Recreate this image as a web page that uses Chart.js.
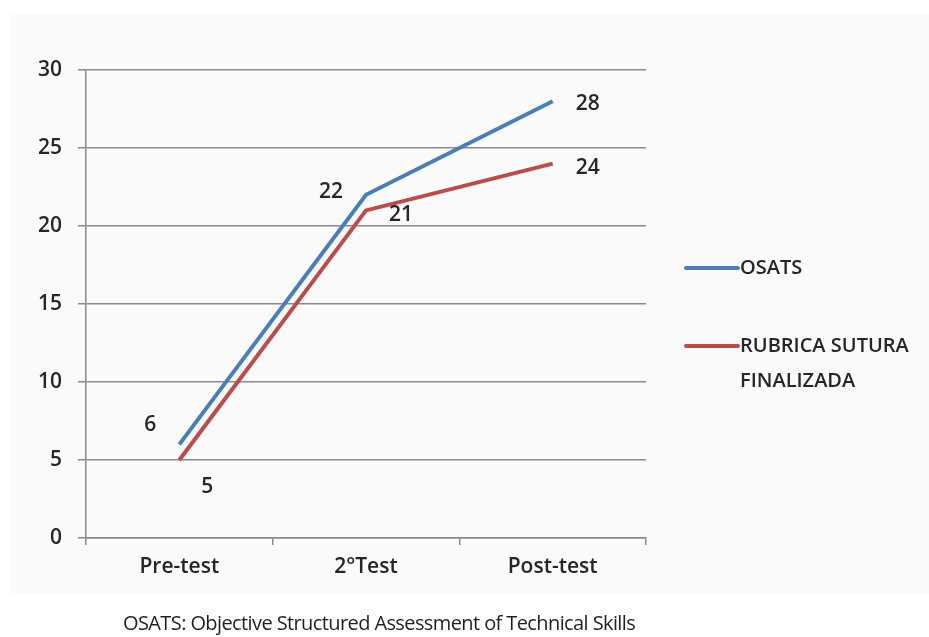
<!DOCTYPE html>
<html>
<head>
<meta charset="utf-8">
<script src="https://cdn.jsdelivr.net/npm/chart.js@4/dist/chart.umd.min.js"></script>
<style>
  html, body { margin: 0; padding: 0; background: #fff; }
  #wrap { position: relative; width: 929px; height: 637px; }
  #panel { position: absolute; left: 10px; top: 14px; width: 919px; height: 580px; background: #fafafa; }
  #chart { position: absolute; left: 0; top: 0; }
  #caption {
    position: absolute; left: 123px; top: 609px; white-space: nowrap;
    font-family: "Open Sans", sans-serif; font-size: 20px; color: #231f20;
    letter-spacing: -0.6px;
  }
</style>
</head>
<body>
<div id="wrap">
  <div id="panel"></div>
  <canvas id="chart" width="929" height="637"></canvas>
  <div id="caption">OSATS: Objective Structured Assessment of Technical Skills</div>
</div>
<script>
const categories = ["Pre-test", "2\u00b0Test", "Post-test"];
const osatsValues = [6, 22, 28];
const rubricaValues = [5, 21, 24];
const seriesNames = ["OSATS", ["RUBRICA SUTURA", "FINALIZADA"]];
const yTicks = [0, 5, 10, 15, 20, 25, 30];

// label offsets from each point (px)
const labelOffsets = [
  [[-29, -19], [-35, -3], [35, 3]],
  [[28, 27], [35, 5], [35, 4]]
];

const FONT = "'Open Sans', sans-serif";
const TEXT = "#262626";
const AXIS = "#8a8a8a";

const labelPlugin = {
  id: "pointLabels",
  afterDatasetsDraw(chart) {
    const ctx = chart.ctx;
    ctx.save();
    ctx.font = "600 21px " + FONT;
    ctx.fillStyle = TEXT;
    ctx.textAlign = "center";
    ctx.textBaseline = "middle";
    chart.data.datasets.forEach((ds, di) => {
      chart.getDatasetMeta(di).data.forEach((pt, i) => {
        const off = labelOffsets[di][i];
        ctx.fillText(String(ds.data[i]), pt.x + off[0], pt.y + off[1]);
      });
    });
    ctx.restore();
  }
};

const legendPlugin = {
  id: "sideLegend",
  afterDraw(chart) {
    const ctx = chart.ctx;
    const items = [{ y: 268 }, { y: 346 }];
    ctx.save();
    ctx.font = "600 20px " + FONT;
    ctx.fillStyle = TEXT;
    ctx.textBaseline = "middle";
    chart.data.datasets.forEach((ds, di) => {
      const y = items[di].y;
      ctx.strokeStyle = ds.borderColor;
      ctx.lineWidth = 4;
      ctx.lineCap = "round";
      ctx.beginPath();
      ctx.moveTo(686, y);
      ctx.lineTo(738, y);
      ctx.stroke();
      const lines = [].concat(seriesNames[di]);
      lines.forEach((t, li) => ctx.fillText(t, 740, y + li * 35));
    });
    ctx.restore();
  }
};

new Chart(document.getElementById("chart"), {
  type: "line",
  data: {
    labels: categories,
    datasets: [
      { label: "OSATS", data: osatsValues, borderColor: "#4a7ebb", borderWidth: 4,
        pointRadius: 0, tension: 0, fill: false, borderCapStyle: "butt" },
      { label: "RUBRICA SUTURA FINALIZADA", data: rubricaValues, borderColor: "#be4b48", borderWidth: 4,
        pointRadius: 0, tension: 0, fill: false, borderCapStyle: "butt" }
    ]
  },
  options: {
    responsive: false,
    animation: false,
    layout: { padding: { left: 10, top: 70, right: 283, bottom: 40 } },
    plugins: { legend: { display: false }, tooltip: { enabled: false } },
    scales: {
      x: {
        offset: true,
        grid: { offset: true, drawOnChartArea: false, color: AXIS, lineWidth: 1.5, tickLength: 7 },
        border: { color: AXIS, width: 1.5 },
        ticks: { color: TEXT, font: { family: FONT, size: 21, weight: 600 }, padding: 9, maxRotation: 0 },
        afterFit(scale) { scale.height = 59; }
      },
      y: {
        min: 0, max: 30,
        afterBuildTicks(scale) { scale.ticks = yTicks.map(v => ({ value: v })); },
        grid: { color: AXIS, lineWidth: 1.5, tickLength: 8 },
        border: { color: AXIS, width: 1.5 },
        ticks: { color: TEXT, font: { family: FONT, size: 21, weight: 600 }, padding: 16 },
        afterFit(scale) { scale.width = 76; }
      }
    }
  },
  plugins: [labelPlugin, legendPlugin]
});
</script>
</body>
</html>
